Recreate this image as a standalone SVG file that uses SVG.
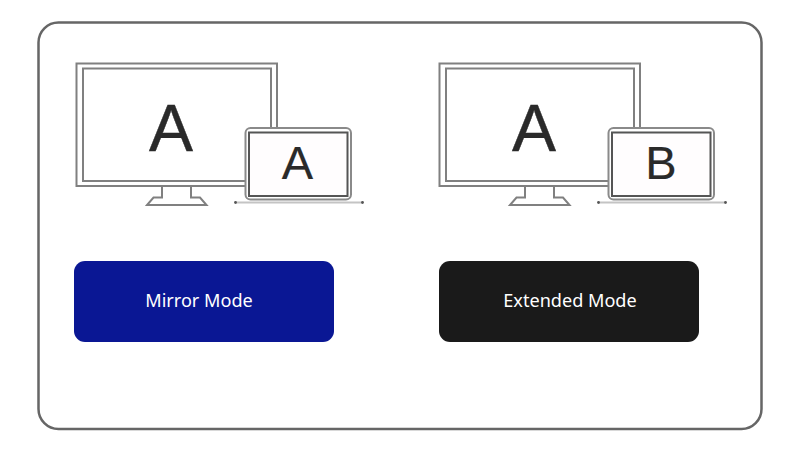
<svg xmlns="http://www.w3.org/2000/svg" xmlns:xlink="http://www.w3.org/1999/xlink" width="800" height="451" viewBox="0 0 800 451">
<style>
.ln{fill:none;stroke:#808080;stroke-width:2}
.lap{fill:#fff;stroke:#8a8a8a;stroke-width:2}
.lapin{fill:#fffdfe;stroke:#555;stroke-width:2}
.dot{fill:#555}
.big{font-family:"Liberation Sans",Arial,sans-serif;font-size:66px;fill:#2a2a2a;stroke:#2a2a2a;stroke-width:.4;text-anchor:middle}
.small{font-family:"Liberation Sans",Arial,sans-serif;font-size:47px;fill:#2a2a2a;stroke:#2a2a2a;stroke-width:.2;text-anchor:middle}
.lbl{font-family:"Noto Sans","Open Sans",sans-serif;font-size:18.100px;fill:#fff;text-anchor:middle}
</style>
<defs>
<g id="monitor">
<rect class="ln" x="76.500" y="63.500" width="200.500" height="122.500"/>
<rect class="ln" x="83" y="68.500" width="188" height="112.500"/>
<path class="ln" d="M162 186V197.500H153.500L147 205H206.500L200 197.500H191V186"/>
</g>
<g id="laptop">
<path d="M236 202.500H362" fill="none" stroke="#c4c4c4" stroke-width="1.800"/>
<circle class="dot" cx="235.500" cy="202.500" r="1.400"/>
<circle class="dot" cx="362.500" cy="202.500" r="1.400"/>
<rect class="lap" x="245.500" y="128" width="105.500" height="71.500" rx="5"/>
<rect class="lapin" x="249" y="132.500" width="98.500" height="63.500"/>
</g>
</defs>
<rect width="800" height="451" fill="#fff"/>
<g id="frame"><rect x="38.500" y="22.500" width="723" height="406.500" rx="20" fill="#fff" stroke="#666" stroke-width="2.500"/></g>
<g id="mirror-displays">
<use xlink:href="#monitor" href="#monitor"/>
<use xlink:href="#laptop" href="#laptop"/>
<text class="big" x="171" y="151">A</text>
<text class="small" x="297.500" y="179">A</text>
</g>
<g id="extended-displays">
<use xlink:href="#monitor" href="#monitor" x="363"/>
<use xlink:href="#laptop" href="#laptop" x="363"/>
<text class="big" x="534" y="151">A</text>
<text class="small" x="661" y="179">B</text>
</g>
<g id="mirror-mode">
<rect x="74" y="261" width="260" height="81" rx="11" fill="#0a1794"/>
<text class="lbl" x="199" y="307">Mirror Mode</text>
</g>
<g id="extended-mode">
<rect x="439" y="261" width="260" height="81" rx="11" fill="#1a1a1a"/>
<text class="lbl" x="570" y="307">Extended Mode</text>
</g>
<g id="connectors"/>
</svg>
